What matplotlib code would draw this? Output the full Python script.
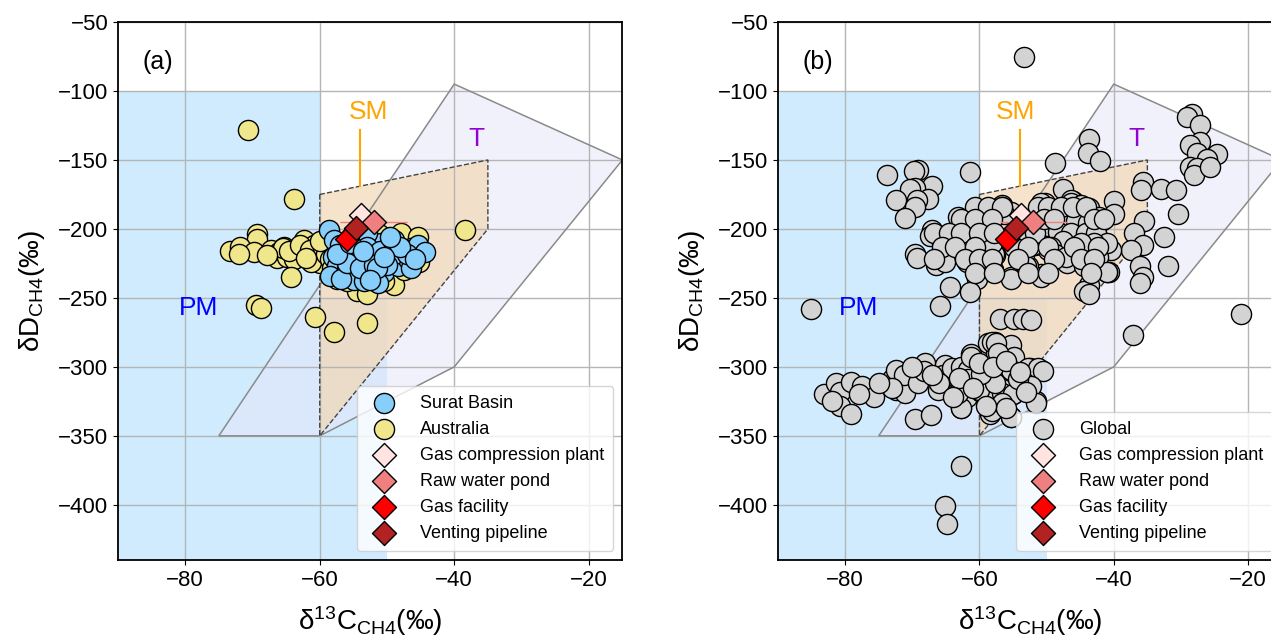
import matplotlib
matplotlib.use("Agg")
import matplotlib.pyplot as plt
from matplotlib.patches import Polygon

plt.rcParams['font.family'] = ['Liberation Sans', 'DejaVu Sans']
plt.rcParams['mathtext.fontset'] = 'custom'
plt.rcParams['mathtext.rm'] = 'Liberation Sans'
plt.rcParams['mathtext.default'] = 'regular'

# -----------------------------
# genetic fields (d13C, dD)
# -----------------------------
pm_field = [(-95, -100), (-60, -100), (-60, -250), (-50, -250), (-50, -450), (-95, -450)]
sm_field = [(-60, -175), (-35, -150), (-35, -200), (-60, -350)]
t_field = [(-75, -350), (-40, -95), (-15, -150), (-40, -300), (-60, -350)]

# -----------------------------
# panel (a): Surat Basin / Australia
# -----------------------------
aus_x = [-70.7, -63.8, -38.4, -69.4, -69.3, -73.3, -71.8, -69.8, -67.3, -66.1, -65.3, -66.3, -64.8,
         -63.1, -63.8, -62.3, -60.8, -61.8, -60.3, -59.9, -61.3, -64.2, -47.9, -45.4, -45.2, -48.9,
         -54.4, -52.9, -51.2, -69.5, -68.8, -60.7, -57.9, -52.9, -65.5, -64.5, -62.9, -61.5, -59.5,
         -59.0, -58.5, -58.2, -57.5, -56.0, -50.5, -47.5, -49.5, -46.5, -62.0, -60.0, -67.8, -72.0]
aus_y = [-128, -178, -201, -204, -207, -216, -213, -217, -215, -217, -213, -221, -220,
         -218, -222, -208, -212, -218, -220, -225, -224, -235, -203, -206, -224, -241,
         -245, -247, -204, -255, -257, -264, -275, -268, -214, -216, -212, -215, -214,
         -218, -222, -228, -236, -238, -238, -230, -211, -214, -221, -209, -219, -218]

surat_x = [-58.6, -57.9, -56.4, -58.1, -57.4, -58.4, -55.9, -54.4, -52.9, -53.9, -51.9, -50.4, -49.4,
           -47.9, -46.9, -45.4, -44.4, -50.9, -48.9, -53.9, -55.4, -52.9, -51.4, -49.9, -48.4, -46.9,
           -54.9, -53.4, -51.4, -56.9, -55.9, -48.9, -46.4, -57.0, -55.0, -53.0, -51.0, -49.0, -47.0,
           -56.0, -54.0, -52.0, -50.0, -48.0, -45.8, -57.5, -55.5, -53.5, -51.5, -49.5, -52.5, -50.5]
surat_y = [-201, -208, -214, -220, -227, -234, -230, -222, -224, -232, -234, -231, -215,
           -220, -215, -212, -217, -210, -208, -208, -206, -203, -220, -224, -227, -222,
           -237, -238, -239, -236, -220, -218, -228, -212, -216, -213, -216, -212, -218,
           -225, -228, -226, -226, -213, -222, -218, -210, -216, -228, -206, -237, -220]

# -----------------------------
# panel (b): global dataset
# -----------------------------
glob_x = [-53.3, -73.8, -69.1, -69.8, -61.4, -67.1, -69.6, -70.3, -67.6, -72.5, -69.3, -69.6, -71.1,
          -63.2, -67.1, -67.4, -64.4, -65.6, -62.7, -60.7, -58.7, -59.7, -58.2, -61.2, -61.9, -69.6,
          -69.3, -66.1, -66.4, -65.1, -57.7, -58.0, -60.4, -64.4, -61.4, -55.3, -65.9, -85.1, -57.0,
          -54.8, -56.7, -55.3,
          -28.3, -29.1, -27.1, -43.7, -27.1, -28.6, -24.6, -27.6, -26.1, -28.6, -27.6, -28.1, -25.6,
          -43.9, -42.0, -48.7, -35.7, -36.0, -33.0, -30.8, -30.5, -47.6, -40.0, -40.0, -35.5, -32.5,
          -37.0, -35.7, -37.5, -32.0, -36.1, -35.7, -36.1, -43.7, -44.4, -40.7, -21.1, -37.1, -53.5,
          -52.3, -46.1, -44.9, -42.7, -41.9, -43.2, -41.9, -44.4, -47.9, -48.8, -46.9, -50.8, -52.8,
          -55.3, -51.8, -45.9, -46.4, -50.3, -45.4, -49.3, -47.9, -43.9, -40.4, -44.9, -43.4, -49.8,
          -53.8, -53.3,
          -50.8, -46.4, -44.9, -43.7, -42.2, -48.8, -47.3, -45.6, -43.9, -49.8, -48.3, -46.4, -44.1,
          -42.7, -41.0, -42.9, -44.9, -47.6, -49.3, -52.0, -51.8, -48.8, -47.1, -44.4, -42.4, -44.4,
          -41.0, -53.0, -50.8, -58.0, -57.8, -56.7, -56.3, -58.2, -43.7, -41.0,
          -60.7, -58.7, -56.7, -51.3, -49.8, -47.9, -46.1, -44.1,
          -62.7, -60.7, -58.2, -50.4, -48.9, -43.0, -41.5,
          -66.7, -64.6, -62.7, -60.1, -57.8,
          -65.6, -63.7, -60.7, -54.8, -52.7, -49.8, -45.9, -42.4,
          -66.7, -62.2, -60.1, -58.2, -54.2, -48.9, -44.9, -43.0,
          -60.7, -57.8, -52.7, -49.8, -43.4,
          -83.2, -81.4, -80.7, -80.7, -79.2, -79.2, -77.5, -75.7, -73.0, -72.5, -72.5, -71.1, -71.3,
          -69.1, -68.1, -68.3, -69.6, -67.2, -66.1, -65.1, -65.4, -64.1, -63.4, -62.7, -61.7, -61.2,
          -62.8, -61.9, -60.7, -58.7, -57.7, -57.5, -55.3, -58.2, -58.5, -56.7, -57.7, -55.3, -55.0,
          -52.5, -50.8, -52.8, -51.6, -55.3, -56.7, -54.0, -59.2, -59.7, -54.8, -62.7, -65.1, -64.8,
          -58.2, -57.5, -57.2, -61.2, -58.7, -58.2, -58.2, -56.7, -55.3, -52.8, -51.3, -50.6, -52.3,
          -55.0, -51.6, -55.3, -56.7, -60.0, -61.7, -62.7, -63.2, -54.3, -57.7, -59.7,
          -73.0, -70.0, -66.0, -63.0, -60.0, -58.0, -56.0, -54.0, -53.0, -56.0, -59.0, -61.0, -64.0,
          -67.0, -75.0, -78.0, -82.0]
glob_y = [-75, -161, -157, -158, -159, -169, -170, -171, -178, -179, -179, -184, -192,
          -191, -201, -205, -207, -210, -206, -201, -194, -206, -210, -220, -224, -218,
          -221, -221, -226, -224, -219, -230, -236, -242, -246, -235, -256, -258, -265,
          -265, -183, -188,
          -117, -119, -125, -135, -137, -139, -146, -145, -149, -155, -156, -161, -155,
          -145, -151, -152, -166, -172, -171, -172, -189, -171, -180, -189, -194, -206,
          -203, -212, -215, -227, -227, -235, -239, -241, -245, -231, -262, -277, -265,
          -266, -180, -186, -203, -194, -195, -210, -223, -209, -220, -225, -233, -227,
          -236, -212, -203, -179, -181, -194, -196, -191, -201, -215, -210, -218, -215,
          -208, -219,
          -181, -181, -183, -185, -191, -191, -194, -194, -196, -198, -202, -203, -203,
          -203, -210, -210, -210, -209, -213, -212, -203, -218, -220, -223, -220, -227,
          -231, -227, -235, -230, -218, -184, -189, -210, -247, -231,
          -184, -184, -184, -184, -184, -184, -184, -184,
          -193, -193, -193, -193, -193, -193, -193,
          -203, -203, -203, -203, -203,
          -213, -213, -213, -213, -213, -213, -213, -213,
          -222, -222, -222, -222, -222, -222, -222, -222,
          -232, -232, -232, -232, -232,
          -320, -312, -318, -328, -334, -311, -314, -322, -309, -302, -317, -319, -306,
          -312, -297, -303, -338, -335, -317, -299, -306, -301, -318, -300, -302, -291,
          -330, -322, -311, -283, -282, -290, -284, -311, -334, -311, -322, -303, -320,
          -301, -302, -314, -325, -336, -326, -311, -305, -318, -293, -372, -401, -414,
          -282, -283, -290, -293, -309, -322, -332, -319, -302, -301, -301, -303, -314,
          -320, -326, -336, -326, -317, -309, -330, -319, -309, -312, -305,
          -315, -300, -312, -308, -297, -300, -296, -304, -318, -330, -328, -315, -322,
          -306, -312, -320, -325]

# -----------------------------
# this study (diamonds)
# -----------------------------
src_names = ["Gas compression plant", "Raw water pond", "Gas facility", "Venting pipeline"]
src_x = [-53.8, -52.0, -55.9, -54.6]
src_y = [-190, -195, -207.5, -199]
src_colors = ["mistyrose", "lightcoral", "red", "firebrick"]
pond_xerr = 5.0


def draw_fields(ax, sm_text_x):
    ax.add_patch(Polygon(pm_field, closed=True, facecolor="lightskyblue", alpha=0.4,
                         edgecolor="none", zorder=0.1))
    ax.add_patch(Polygon(t_field, closed=True, facecolor="lavender", alpha=0.55,
                         edgecolor="none", zorder=0.2))
    ax.add_patch(Polygon(sm_field, closed=True, facecolor="#f1d8b5", alpha=0.7,
                         edgecolor="none", zorder=0.3))
    # outlines
    ax.add_patch(Polygon(t_field, closed=True, facecolor="none", edgecolor="#8a8a8a",
                         lw=1.1, zorder=0.6))
    ax.add_patch(Polygon(sm_field, closed=True, facecolor="none", edgecolor="#444444",
                         lw=1, ls="--", zorder=0.6))
    ax.text(-78, -257, "PM", color="blue", fontsize=19, ha="center", va="center")
    ax.text(sm_text_x, -115, "SM", color="orange", fontsize=19, ha="center", va="center")
    ax.plot([-54, -54], [-128, -169], color="orange", lw=1.5, zorder=0.7)
    ax.text(-36.7, -135, "T", color="darkviolet", fontsize=19, ha="center", va="center")


def draw_sources(ax):
    ax.errorbar(src_x[1], src_y[1], xerr=pond_xerr, color="lightcoral", lw=1,
                capsize=0, fmt="none", zorder=4)
    for nx, ny, c, name in zip(src_x, src_y, src_colors, src_names):
        ax.scatter(nx, ny, marker="D", s=150, color=c, edgecolors="black",
                   linewidths=1, zorder=5, label=name)


def style_axes(ax, tag):
    ax.set_xlim(-90, -15)
    ax.set_ylim(-440, -50)
    ax.set_xticks([-80, -60, -40, -20])
    ax.set_yticks(range(-400, -49, 50))
    ax.tick_params(labelsize=16)
    ax.grid(True, color="#b5b5b5", lw=1)
    ax.set_axisbelow(True)
    for sp in ax.spines.values():
        sp.set_linewidth(1.3)
    ax.set_xlabel(r"δ$^{13}$C$_{CH4}$(‰)", fontsize=20, labelpad=10)
    ax.set_ylabel(r"δD$_{CH4}$(‰)", fontsize=20, labelpad=8)
    ax.text(-84, -79, tag, fontsize=18, ha="center", va="center")
    ax.legend(loc="lower right", fontsize=13, handletextpad=1.0, borderpad=0.5,
              labelspacing=0.5, framealpha=0.8)


fig = plt.figure(figsize=(12.71, 6.4), dpi=100)
ax1 = fig.add_axes([0.0928, 0.125, 0.3969, 0.8406])
ax2 = fig.add_axes([0.6121, 0.125, 0.3963, 0.8406])

# (a)
draw_fields(ax1, -52.8)
ax1.scatter(surat_x, surat_y, s=210, color="lightskyblue", edgecolors="black",
            linewidths=1, zorder=3, label="Surat Basin")
ax1.scatter(aus_x, aus_y, s=210, color="khaki", edgecolors="black",
            linewidths=1, zorder=2, label="Australia")
draw_sources(ax1)
style_axes(ax1, "(a)")

# (b)
draw_fields(ax2, -54.7)
ax2.scatter(glob_x, glob_y, s=210, color="lightgray", edgecolors="black",
            linewidths=1, zorder=2, label="Global")
draw_sources(ax2)
style_axes(ax2, "(b)")

fig.savefig("out.png", dpi=100)
